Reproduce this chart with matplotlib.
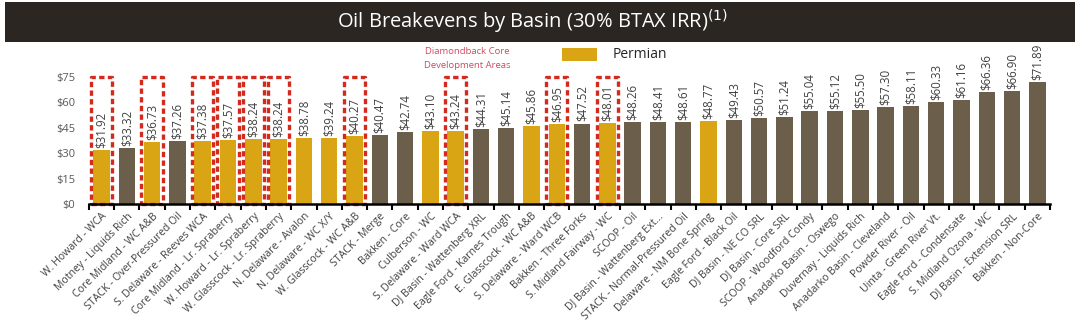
import matplotlib
matplotlib.use("Agg")
import matplotlib.pyplot as plt
from matplotlib.patches import Rectangle

# --- data ---
basins = [
    "W. Howard - WCA", "Motney - Liquids Rich", "Core Midland - WC A&B",
    "STACK - Over-Pressured Oil", "S. Delaware - Reeves WCA",
    "Core Midland - Lr. Spraberry", "W. Howard - Lr. Spraberry",
    "W. Glasscock - Lr. Spraberry", "N. Delaware - Avalon",
    "N. Delaware - WC X/Y", "W. Glasscock - WC A&B", "STACK - Merge",
    "Bakken - Core", "Culberson - WC", "S. Delaware - Ward WCA",
    "DJ Basin - Wattenberg XRL", "Eagle Ford - Karnes Trough",
    "E. Glasscock - WC A&B", "S. Delaware - Ward WCB",
    "Bakken - Three Forks", "S. Midland Fairway - WC", "SCOOP - Oil",
    "DJ Basin - Wattenberg Ext...", "STACK - Normal-Pressured Oil",
    "Delaware - NM Bone Spring", "Eagle Ford - Black Oil",
    "DJ Basin - NE CO SRL", "DJ Basin - Core SRL",
    "SCOOP - Woodford Condy", "Anadarko Basin - Oswego",
    "Duvernay - Liquids Rich", "Anadarko Basin - Cleveland",
    "Powder River - Oil", "Uinta - Green River Vt.",
    "Eagle Ford - Condensate", "S. Midland Ozona - WC",
    "DJ Basin - Extension SRL", "Bakken - Non-Core",
]
breakeven = [
    31.92, 33.32, 36.73, 37.26, 37.38, 37.57, 38.24, 38.24, 38.78, 39.24,
    40.27, 40.47, 42.74, 43.10, 43.24, 44.31, 45.14, 45.86, 46.95, 47.52,
    48.01, 48.26, 48.41, 48.61, 48.77, 49.43, 50.57, 51.24, 55.04, 55.12,
    55.50, 57.30, 58.11, 60.33, 61.16, 66.36, 66.90, 71.89,
]
permian = [
    1, 0, 1, 0, 1, 1, 1, 1, 1, 1,
    1, 0, 0, 1, 1, 0, 0, 1, 1, 0,
    1, 0, 0, 0, 1, 0, 0, 0, 0, 0,
    0, 0, 0, 0, 0, 0, 0, 0,
]
core_area = [
    1, 0, 1, 0, 1, 1, 1, 1, 0, 0,
    1, 0, 0, 0, 1, 0, 0, 0, 1, 0,
    1, 0, 0, 0, 0, 0, 0, 0, 0, 0,
    0, 0, 0, 0, 0, 0, 0, 0,
]
yticks = [0, 15, 30, 45, 60, 75]

gold = '#d9a514'
brown = '#6b5e4b'
red = '#d42a1e'
txt = '#404040'

fig = plt.figure(figsize=(10.8, 3.26), dpi=100)
plt.rcParams['font.family'] = ['Open Sans', 'DejaVu Sans']

# title banner
fig.patches.append(Rectangle((5/1080, 1 - 42/326), 1070/1080, 40/326,
                             transform=fig.transFigure, facecolor='#2b2621',
                             edgecolor='none', zorder=0))
fig.text(0.493, 1 - 22/326, "Oil Breakevens by Basin (30% BTAX IRR)$^{(1)}$",
         color='white', fontsize=14.5, ha='center', va='center')

ax = fig.add_axes([0.0823, 0.374, 0.8899, 0.390])
x = list(range(len(basins)))
colors = [gold if p else brown for p in permian]
ax.bar(x, breakeven, width=0.65, color=colors, zorder=2)

for i, v in enumerate(breakeven):
    ax.text(i, v + 1.2, f"${v:.2f}", rotation=90, ha='center', va='bottom',
            fontsize=8.3, color=txt, clip_on=False)
    if core_area[i]:
        ax.add_patch(Rectangle((i - 0.42, 0), 0.84, 75, fill=False,
                               edgecolor=red, linewidth=2.4,
                               linestyle=(0, (1.6, 1.0)), capstyle='butt',
                               joinstyle='round', zorder=3, clip_on=False))

ax.set_xlim(-0.5, len(basins) - 0.5)
ax.set_ylim(0, 75)
ax.set_yticks(yticks)
ax.set_yticklabels([f"${t}" for t in yticks], fontsize=8, color='#595959')
ax.tick_params(axis='y', length=0, pad=10)

ax.set_xticks([i - 0.5 for i in range(len(basins) + 1)])
ax.set_xticklabels([])
ax.set_xticks(x, minor=True)
ax.set_xticklabels(basins, minor=True, rotation=45, ha='right',
                   rotation_mode='anchor', fontsize=7.6, color=txt)
ax.tick_params(axis='x', which='major', length=4, width=1.5, color='black')
ax.tick_params(axis='x', which='minor', length=0, pad=5)

for s in ['top', 'right', 'left']:
    ax.spines[s].set_visible(False)
ax.spines['bottom'].set_linewidth(1.8)
ax.spines['bottom'].set_zorder(4)

# legend / annotations
fig.text(467/1080, 1 - 52/326, "Diamondback Core", color='#d04a5e',
         fontsize=6.8, ha='center', va='center')
fig.text(467/1080, 1 - 65/326, "Development Areas", color='#d04a5e',
         fontsize=6.8, ha='center', va='center')
fig.patches.append(Rectangle((562/1080, 1 - 61/326), 35/1080, 13/326,
                             transform=fig.transFigure, facecolor=gold,
                             edgecolor='none'))
fig.text(613/1080, 1 - 55/326, "Permian", color='#262626', fontsize=10,
         ha='left', va='center')

fig.savefig('out.png', dpi=100, facecolor='white')
